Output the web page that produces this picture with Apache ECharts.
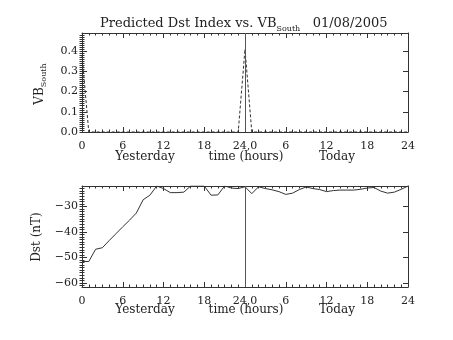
<!DOCTYPE html>
<html>
<head>
<meta charset="utf-8">
<script src="https://cdn.jsdelivr.net/npm/echarts@6/dist/echarts.min.js"></script>
<style>
  html, body { margin: 0; padding: 0; background: #fff; }
  #chart { width: 453px; height: 340px; }
</style>
</head>
<body>
<div id="chart"></div>
<script>
// Hour tick labels shared by both panels (yesterday 0-24, today 0-24)
const xTickLabels = ['0', '6', '12', '18', '24,0', '6', '12', '18', '24'];

// Southward IMF component, hourly from 0 h yesterday to 24 h today
const vbSouth = [
  0.38, 0, 0, 0, 0, 0, 0, 0, 0, 0, 0, 0, 0, 0, 0, 0, 0, 0, 0, 0, 0, 0, 0, 0,
  0.41, 0, 0, 0, 0, 0, 0, 0, 0, 0, 0, 0, 0, 0, 0, 0, 0, 0, 0, 0, 0, 0, 0, 0, 0
];

// Predicted Dst (nT), hourly over the same span
const dst = [
  -51.6, -51.6, -46.8, -46.2, -43.4, -40.7, -38.0, -35.4, -32.6, -27.4,
  -25.6, -22.0, -23.0, -24.6, -24.6, -24.4, -22.0, -22.0, -22.0, -25.6,
  -25.5, -22.0, -22.8, -23.0, -22.3, -25.0, -22.3, -23.0, -23.5, -24.2,
  -25.3, -24.8, -23.4, -22.4, -23.0, -23.4, -24.2, -23.8, -23.6, -23.6,
  -23.6, -23.3, -22.8, -22.6, -24.0, -24.8, -24.4, -23.3, -22.0
];

// Vertical tick values and their labels
const vbTicks = [0.0, 0.1, 0.2, 0.3, 0.4];
const vbMinorTicks = [0, 0.01, 0.02, 0.03, 0.04, 0.05, 0.06, 0.07, 0.08, 0.09,
  0.1, 0.11, 0.12, 0.13, 0.14, 0.15, 0.16, 0.17, 0.18, 0.19,
  0.2, 0.21, 0.22, 0.23, 0.24, 0.25, 0.26, 0.27, 0.28, 0.29,
  0.3, 0.31, 0.32, 0.33, 0.34, 0.35, 0.36, 0.37, 0.38, 0.39,
  0.4, 0.41, 0.42, 0.43, 0.44, 0.45, 0.46, 0.47, 0.48];
const dstTicks = [-60, -50, -40, -30];
const dstMinorTicks = [-61, -60, -59, -58, -57, -56, -55, -54, -53, -52, -51, -50,
  -49, -48, -47, -46, -45, -44, -43, -42, -41, -40, -39, -38, -37, -36, -35, -34,
  -33, -32, -31, -30, -29, -28, -27, -26, -25, -24, -23];

const vbRange = [0, 0.49];
const dstRange = [-61.6, -22.0];

const FRAME = '#333';
const TEXT = '#222';
const FONT = 'DejaVu Serif';

function xAxes(grid, withLabels) {
  const base = {
    type: 'value', gridIndex: grid, min: 0, max: 48, interval: 6,
    axisLine: { show: true, onZero: false, lineStyle: { color: FRAME, width: 1 } },
    axisTick: { show: true, inside: true, length: 5, lineStyle: { color: FRAME } },
    minorTick: { show: true, splitNumber: 6, length: 2.5, lineStyle: { color: FRAME } },
    splitLine: { show: false }
  };
  return [
    Object.assign({}, base, {
      position: 'bottom',
      axisLabel: {
        show: withLabels, margin: 9, color: TEXT, fontFamily: FONT, fontSize: 11,
        formatter: (v) => xTickLabels[Math.round(v / 6)]
      }
    }),
    Object.assign({}, base, { position: 'top', axisLabel: { show: false } })
  ];
}

function yAxes(grid, range, ticks, minor, fmt) {
  const common = {
    type: 'value', gridIndex: grid, min: range[0], max: range[1],
    splitLine: { show: false }
  };
  const major = (pos, labels) => Object.assign({}, common, {
    position: pos,
    axisLine: { show: true, onZero: false, lineStyle: { color: FRAME, width: 1 } },
    axisTick: { show: true, inside: true, length: 5, customValues: ticks, lineStyle: { color: FRAME } },
    axisLabel: {
      show: labels, customValues: ticks, margin: 4, color: TEXT, fontFamily: FONT, fontSize: 11,
      formatter: fmt
    }
  });
  const minorAxis = (pos) => Object.assign({}, common, {
    position: pos,
    axisLine: { show: false },
    axisTick: { show: true, inside: true, length: 2.5, customValues: minor, lineStyle: { color: FRAME } },
    axisLabel: { show: false }
  });
  return [major('left', true), major('right', false), minorAxis('left'), minorAxis('right')];
}

const dayBoundary = {
  silent: true, symbol: 'none', label: { show: false },
  lineStyle: { color: '#555', type: 'solid', width: 1 },
  data: [{ xAxis: 24 }]
};

const chart = echarts.init(document.getElementById('chart'), null, { renderer: 'canvas' });

const labelStyle = { align: 'center', verticalAlign: 'middle', fontFamily: FONT, fontSize: 12, fill: TEXT };

const option = {
  backgroundColor: '#fff',
  animation: false,
  grid: [
    { left: 82, top: 33, width: 326, height: 99 },
    { left: 82, top: 186, width: 326, height: 101 }
  ],
  xAxis: [].concat(xAxes(0, true), xAxes(1, true)),
  yAxis: [].concat(
    yAxes(0, vbRange, vbTicks, vbMinorTicks, (v) => v.toFixed(1)),
    yAxes(1, dstRange, dstTicks, dstMinorTicks, (v) => String(v).replace('-', '\u2212'))
  ),
  series: [
    {
      type: 'line', xAxisIndex: 0, yAxisIndex: 0,
      data: vbSouth.map((v, i) => [i, v]),
      showSymbol: false, clip: true,
      lineStyle: { color: '#333', width: 1, type: [3, 2] },
      markLine: dayBoundary
    },
    {
      type: 'line', xAxisIndex: 2, yAxisIndex: 4,
      data: dst.map((v, i) => [i, v]),
      showSymbol: false, clip: true,
      lineStyle: { color: '#333', width: 1 },
      markLine: dayBoundary
    }
  ],
  graphic: [
    {
      type: 'text', x: 100, y: 15,
      style: {
        text: '{t|Predicted Dst Index vs. VB}{s|South}{t|   01/08/2005}',
        rich: {
          t: { fontFamily: FONT, fontSize: 13, fill: TEXT },
          s: { fontFamily: FONT, fontSize: 8, fill: TEXT, padding: [10, 0, 0, 0] }
        }
      }
    },
    {
      type: 'text', x: 40, y: 84, rotation: Math.PI / 2,
      style: {
        text: '{t|VB}{s|South}', align: 'center', verticalAlign: 'middle',
        rich: {
          t: { fontFamily: FONT, fontSize: 12, fill: TEXT },
          s: { fontFamily: FONT, fontSize: 8, fill: TEXT, padding: [8, 0, 0, 0] }
        }
      }
    },
    { type: 'text', x: 37, y: 237, rotation: Math.PI / 2, style: Object.assign({ text: 'Dst (nT)' }, labelStyle) },
    { type: 'text', x: 145, y: 157, style: Object.assign({ text: 'Yesterday' }, labelStyle) },
    { type: 'text', x: 246, y: 157, style: Object.assign({ text: 'time (hours)' }, labelStyle) },
    { type: 'text', x: 337, y: 157, style: Object.assign({ text: 'Today' }, labelStyle) },
    { type: 'text', x: 145, y: 310, style: Object.assign({ text: 'Yesterday' }, labelStyle) },
    { type: 'text', x: 246, y: 310, style: Object.assign({ text: 'time (hours)' }, labelStyle) },
    { type: 'text', x: 337, y: 310, style: Object.assign({ text: 'Today' }, labelStyle) }
  ]
};

chart.setOption(option);
</script>
</body>
</html>
